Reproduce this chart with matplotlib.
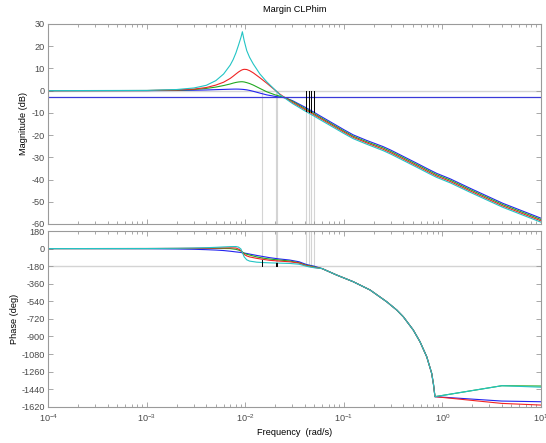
import matplotlib
matplotlib.use("Agg")
import matplotlib.pyplot as plt
from matplotlib.ticker import FixedLocator, LogLocator, NullFormatter

plt.rcParams['font.family'] = ['Liberation Sans', 'DejaVu Sans']
plt.rcParams['mathtext.fontset'] = 'custom'
plt.rcParams['mathtext.rm'] = 'Liberation Sans'
plt.rcParams['mathtext.default'] = 'regular'
plt.rcParams['axes.unicode_minus'] = False

# ---- magnitude data (rad/s, dB) ----
w_mag = [1e-4, 1e-3, 2e-3, 3e-3, 4e-3, 5e-3, 6e-3, 7e-3, 7.5e-3, 8e-3,
         8.5e-3, 9e-3, 9.3e-3, 9.7e-3, 1.03e-2, 1.1e-2, 1.2e-2, 1.4e-2, 1.64e-2, 2e-2,
         2.24e-2, 2.5e-2, 3e-2, 4e-2, 4.9e-2, 6e-2, 8e-2, 0.1, 0.124, 0.17,
         0.25, 0.3, 0.4, 0.55, 0.7, 0.87, 1.2, 1.9, 4.1, 10]

mag_blue = [0, 0.02, 0.08, 0.18, 0.3, 0.45, 0.55, 0.65, 0.68, 0.7,
            0.68, 0.62, 0.58, 0.5, 0.35, 0.1, -0.3, -1.1, -1.9, -2.6,
            -2.9, -3.2, -4.5, -7.4, -9.6, -11.9, -15.1, -17.6, -19.9, -22.4,
            -25.2, -26.8, -29.6, -32.7, -35.1, -37.2, -39.7, -43.9, -50.7, -57.4]
mag_green = [0, 0.05, 0.2, 0.5, 1.0, 1.6, 2.3, 3.0, 3.4, 3.7,
             3.9, 4.0, 4.0, 3.9, 3.6, 3.2, 2.5, 1.0, -0.5, -1.9,
             -2.5, -3.0, -4.8, -8.0, -10.2, -12.5, -15.7, -18.2, -20.5, -23.0,
             -25.8, -27.4, -30.2, -33.3, -35.7, -37.8, -40.3, -44.5, -51.3, -58.0]
mag_red = [0, 0.05, 0.3, 0.7, 1.4, 2.5, 3.8, 5.5, 6.5, 7.5,
           8.4, 9.1, 9.4, 9.6, 9.5, 9.0, 8.0, 5.8, 3.4, 0.2,
           -1.6, -3.1, -5.3, -8.5, -10.7, -13.0, -16.2, -18.7, -21.0, -23.5,
           -26.4, -28.0, -30.8, -33.9, -36.3, -38.4, -40.9, -45.1, -51.9, -58.6]
mag_cyan = [0, 0.1, 0.5, 1.2, 2.4, 4.5, 7.5, 11.5, 14.0, 17.0,
            20.5, 24.0, 26.5, 22.5, 18.0, 15.0, 12.0, 7.5, 4.0, 0.3,
            -1.9, -3.3, -5.8, -9.1, -11.3, -13.6, -16.8, -19.3, -21.6, -24.1,
            -27.0, -28.6, -31.4, -34.5, -36.9, -39.0, -41.5, -45.7, -52.5, -59.2]

# ---- phase data (rad/s, deg) ----
w_ph = [1e-4, 1e-3, 2e-3, 3e-3, 4e-3, 5e-3, 6e-3, 7e-3, 8e-3, 8.5e-3,
        9e-3, 9.3e-3, 9.7e-3, 1.03e-2, 1.1e-2, 1.3e-2, 1.5e-2, 1.76e-2, 2.2e-2, 2.8e-2,
        3.5e-2, 4.13e-2, 4.38e-2, 4.65e-2, 4.97e-2, 6e-2, 8.43e-2, 0.124, 0.184, 0.271,
        0.343, 0.40, 0.505, 0.591, 0.692, 0.777, 0.81, 0.839, 4.0, 10]

ph_tail = [-205, -271, -339, -424, -544, -629, -698, -834, -954, -1108, -1278, -1390, -1517]

ph_blue = [0, -1, -4, -7, -11, -15, -20, -27, -34, -37,
           -40, -43, -46, -50, -56, -70, -81, -93, -106, -117,
           -135, -162, -168, -174, -180] + ph_tail + [-1562, -1569]
ph_green = [0, 0, 1, 1, 2, 2, 1, 0, -8, -15,
            -25, -35, -48, -58, -66, -85, -97, -107, -117, -127,
            -145, -170, -175, -180, -188] + ph_tail + [-1405, -1408]
ph_red = [0, 1, 2, 3, 4, 6, 7, 8, 6, -5,
          -20, -40, -60, -75, -85, -100, -110, -120, -128, -135,
          -148, -174, -180, -186, -193] + ph_tail + [-1586, -1603]
ph_cyan = [0, 1, 3, 6, 9, 13, 17, 20, 21, 15,
           -5, -40, -85, -115, -128, -139, -143, -146, -149, -152,
           -160, -180, -186, -191, -196] + ph_tail + [-1405, -1420]

# ---- stability margin markers ----
gm_freqs = [0.0413, 0.0438, 0.0465, 0.0497]
gm_mags = [-9.3, -9.5, -9.6, -9.7]
pm_freqs = [0.0146, 0.0203, 0.0207]
pm_phases = [-117, -148, -150]

bw_level = -3.0

curves = [
    (mag_blue, ph_blue, '#2424f0'),
    (mag_green, ph_green, '#22a822'),
    (mag_red, ph_red, '#f02424'),
    (mag_cyan, ph_cyan, '#22c4c4'),
]

mag_lim = (-60, 30)
ph_lim = (-1620, 180)
x_lim = (1e-4, 1e1)

frame_c = '#9a9a9a'
tick_c = '#4a4a4a'
guide_c = '#d4d4d4'
fs = 6.6

fig = plt.figure(figsize=(5.46, 4.43), dpi=100)
ax1 = fig.add_axes([0.0888, 0.4944, 0.9020, 0.4515])
ax2 = fig.add_axes([0.0888, 0.0819, 0.9020, 0.3966])

for ax in (ax1, ax2):
    ax.set_xscale('log')
    ax.set_xlim(*x_lim)
    for s in ax.spines.values():
        s.set_color(frame_c)
        s.set_linewidth(0.8)
    ax.tick_params(which='both', direction='in', top=True, right=True,
                   colors=frame_c, labelcolor=tick_c, labelsize=fs, width=0.6)
    ax.tick_params(which='major', length=3.5, pad=2.5)
    ax.tick_params(which='minor', length=2.0)
    ax.xaxis.set_major_locator(LogLocator(base=10, numticks=10))
    ax.xaxis.set_minor_locator(LogLocator(base=10, subs=range(2, 10), numticks=20))
    ax.xaxis.set_minor_formatter(NullFormatter())

# magnitude panel
ax1.set_ylim(*mag_lim)
ax1.yaxis.set_major_locator(FixedLocator(range(-60, 31, 10)))
ax1.tick_params(axis='x', labelbottom=False)
ax1.axhline(0, color=guide_c, lw=1.0, zorder=1)
for f in pm_freqs + gm_freqs:
    ax1.plot([f, f], [mag_lim[0], 0], color=guide_c, lw=0.8, zorder=1)
for f, m in zip(gm_freqs, gm_mags):
    ax1.plot([f, f], [0, m], color='black', lw=0.7, zorder=3)
for m, p, c in curves:
    ax1.plot(w_mag, m, color=c, lw=0.8, zorder=2)
ax1.axhline(bw_level, color='#3a3ad8', lw=0.9, zorder=2)
ax1.set_ylabel('Magnitude (dB)', fontsize=fs)
ax1.yaxis.set_label_coords(-0.042, 0.5)

# phase panel
ax2.set_ylim(*ph_lim)
ax2.yaxis.set_major_locator(FixedLocator(range(-1620, 181, 180)))
ax2.axhline(-180, color=guide_c, lw=1.0, zorder=1)
for f in pm_freqs + gm_freqs:
    ax2.plot([f, f], [-180, ph_lim[1]], color=guide_c, lw=0.8, zorder=1)
for f, p in zip(pm_freqs, pm_phases):
    ax2.plot([f, f], [-180, p], color='black', lw=0.7, zorder=3)
for m, p, c in curves:
    ax2.plot(w_ph, p, color=c, lw=0.8, zorder=2)
ax2.set_ylabel('Phase (deg)', fontsize=fs)
ax2.yaxis.set_label_coords(-0.059, 0.5)
ax2.set_xlabel('Frequency  (rad/s)', fontsize=fs, labelpad=3)
ax2.tick_params(axis='x', which='major', pad=4)

fig.text(0.54, 1 - 10 / 443, 'Margin CLPhim', ha='center', va='center', fontsize=fs)

fig.savefig('out.png', dpi=100)
